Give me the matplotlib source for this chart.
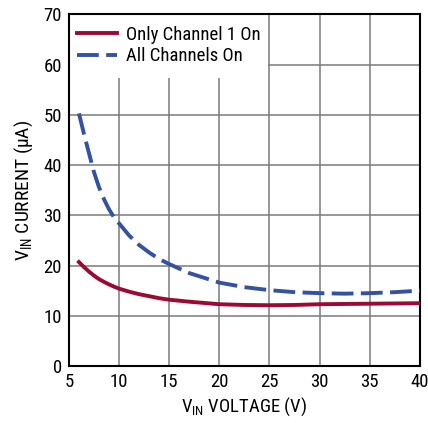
import matplotlib
matplotlib.use("Agg")
import matplotlib.pyplot as plt
from matplotlib.patches import Rectangle

plt.rcParams['font.family'] = ['Roboto Condensed', 'DejaVu Sans']
plt.rcParams['mathtext.fontset'] = 'custom'
plt.rcParams['mathtext.rm'] = 'Roboto Condensed'
plt.rcParams['mathtext.it'] = 'Roboto Condensed'

# data
vin_one = [6, 6.5, 7, 7.5, 8, 8.5, 9, 9.5, 10, 11, 12, 13, 14, 15, 17, 20,
           22.5, 25, 27.5, 30, 32.5, 35, 37.5, 40]
i_one = [20.7, 19.7, 18.8, 18.0, 17.3, 16.75, 16.25, 15.8, 15.4, 14.8, 14.3,
         13.9, 13.5, 13.2, 12.8, 12.3, 12.15, 12.1, 12.15, 12.3, 12.35, 12.4,
         12.45, 12.5]

vin_all = [6, 6.5, 7, 7.5, 8, 8.5, 9, 9.5, 10, 11, 12, 13, 14, 15, 17, 20,
           22.5, 25, 27.5, 30, 32.5, 35, 37.5, 40]
i_all = [50.3, 46.2, 42.4, 38.6, 35.6, 33.2, 31.2, 29.6, 28.4, 26.0, 24.1,
         22.6, 21.3, 20.3, 18.5, 16.6, 15.7, 15.1, 14.7, 14.5, 14.4, 14.5,
         14.7, 15.0]

labels = ["Only Channel 1 On", "All Channels On"]
xticks = [5, 10, 15, 20, 25, 30, 35, 40]
yticks = [0, 10, 20, 30, 40, 50, 60, 70]

fig = plt.figure(figsize=(4.28, 4.23), dpi=100)
ax = fig.add_axes([0.161, 0.1348, 0.82, 0.831])

ax.plot(vin_one, i_one, color='#9b0a32', lw=2.8, label=labels[0], zorder=3)
ax.plot(vin_all, i_all, color='#3552a0', lw=2.8, dashes=(5.6, 1.9),
        label=labels[1], zorder=3)

ax.set_xlim(5, 40)
ax.set_ylim(0, 70)
ax.set_xticks(xticks)
ax.set_yticks(yticks)
ax.tick_params(length=0, labelsize=13.5, pad=5)
ax.grid(True, color='#7a7a7a', lw=1.1)
ax.set_axisbelow(True)
for s in ax.spines.values():
    s.set_linewidth(1.5)
    s.set_color('black')

# white box behind the legend
ax.add_patch(Rectangle((0, 0.82), 0.567, 0.18, transform=ax.transAxes,
                       facecolor='white', edgecolor='none', zorder=2))
ax.legend(loc='upper left', bbox_to_anchor=(-0.015, 1.005), frameon=False,
          fontsize=13.5, handlelength=2.15, handletextpad=0.45,
          labelspacing=0.18, borderaxespad=0.3)

ax.set_xlabel(r'V$_{\mathrm{IN}}$ VOLTAGE (V)', fontsize=13.5, labelpad=3)
ax.set_ylabel(r'V$_{\mathrm{IN}}$ CURRENT (μA)', fontsize=14, labelpad=6)

fig.savefig('out.png', dpi=100)
